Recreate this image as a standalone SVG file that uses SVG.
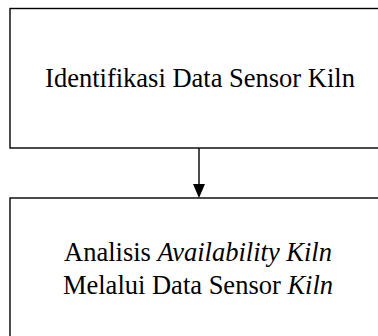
<svg xmlns="http://www.w3.org/2000/svg" width="378" height="336" viewBox="0 0 378 336">
<style>
.box{fill:#fff;stroke:#000;stroke-width:1.4}
.t{font-family:"Liberation Serif","Times New Roman",serif;font-size:26.5px;fill:#000;text-anchor:middle}
.c{stroke:#000;stroke-width:1.4;fill:none}
</style>
<defs>
<marker id="ah" viewBox="0 0 12 14" refX="6" refY="14" markerWidth="12" markerHeight="14" markerUnits="userSpaceOnUse" orient="auto-start-reverse">
<path d="M0,0 L12,0 L6,14 Z" fill="#000"/>
</marker>
</defs>
<rect width="378" height="336" fill="#fff"/>
<g id="node1">
<rect class="box" x="10" y="8.5" width="382" height="139.5"/>
<text class="t" x="200" y="86.5">Identifikasi Data Sensor Kiln</text>
</g>
<g id="node2">
<rect class="box" x="10" y="198" width="382" height="160"/>
<text class="t" x="198" y="261">Analisis <tspan font-style="italic">Availability Kiln</tspan></text>
<text class="t" x="198" y="294">Melalui Data Sensor <tspan font-style="italic">Kiln</tspan></text>
</g>
<g id="connectors">
<line class="c" x1="199" y1="148" x2="199" y2="184"/>
<path d="M193,184 L205,184 L199,198 Z" fill="#000"/>
</g>
</svg>
